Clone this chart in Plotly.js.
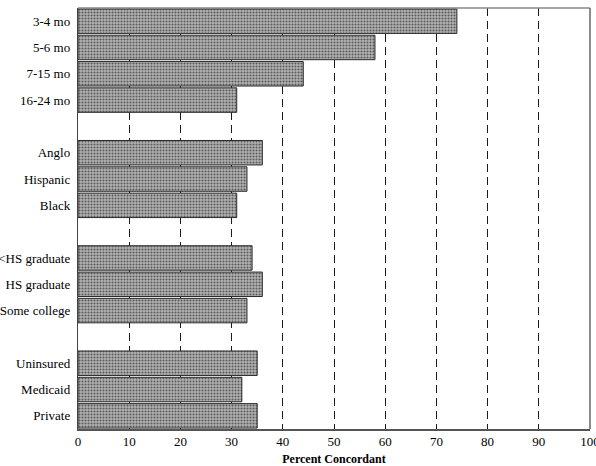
<!DOCTYPE html>
<html>
<head>
<meta charset="utf-8">
<script src="https://cdn.plot.ly/plotly-3.0.1.min.js"></script>
<style>html,body{margin:0;padding:0;background:#fff;}#chart{width:596px;height:466px;}</style>
</head>
<body>
<div id="chart"></div>
<script>
// Data
const ageLabels = ['3-4 mo', '5-6 mo', '7-15 mo', '16-24 mo'];
const ageValues = [74, 58, 44, 31];
const raceLabels = ['Anglo', 'Hispanic', 'Black'];
const raceValues = [36, 33, 31];
const eduLabels = ['<HS graduate', 'HS graduate', 'Some college'];
const eduValues = [34, 36, 33];
const insLabels = ['Uninsured', 'Medicaid', 'Private'];
const insValues = [35, 32, 35];
const xTickValues = [0, 10, 20, 30, 40, 50, 60, 70, 80, 90, 100];
const xTitle = 'Percent Concordant';

// Build category order with blank spacer rows between groups
const groups = [[ageLabels, ageValues], [raceLabels, raceValues], [eduLabels, eduValues], [insLabels, insValues]];
const cats = [], vals = [], allCats = [];
groups.forEach((g, gi) => {
  if (gi > 0) allCats.push('\u200b'.repeat(gi));
  g[0].forEach((lab, i) => { cats.push(lab); vals.push(g[1][i]); allCats.push(lab); });
});

const trace = {
  type: 'bar',
  orientation: 'h',
  x: vals,
  y: cats,
  marker: {
    color: '#a4a4a4',
    line: {color: '#2a2a2a', width: 1},
    pattern: {shape: '.', fgcolor: '#5a5a5a', bgcolor: '#b4b4b4', size: 3, solidity: 0.4, fillmode: 'replace'}
  },
  hoverinfo: 'x+y'
};

const layout = {
  width: 596, height: 466,
  margin: {l: 78, r: 6, t: 8, b: 37},
  paper_bgcolor: '#fff', plot_bgcolor: '#fff',
  bargap: 0.07,
  showlegend: false,
  font: {family: '"Liberation Serif", "Times New Roman", serif', color: '#000', size: 13},
  xaxis: {
    range: [0, 100],
    tickvals: xTickValues,
    ticks: '',
    showgrid: true,
    gridcolor: '#1a1a1a',
    gridwidth: 1,
    griddash: '8px,5px',
    zeroline: false,
    showline: true, linecolor: '#555', linewidth: 1.5,
    ticklabeloverflow: 'allow',
    tickfont: {size: 13, family: '"Liberation Serif", serif', color: '#000'},
    title: {text: '<b>' + xTitle + '</b>', font: {size: 12, family: '"Liberation Serif", serif', color: '#000'}, standoff: 6}
  },
  yaxis: {
    type: 'category',
    categoryorder: 'array',
    categoryarray: allCats,
    range: [allCats.length - 0.5, -0.5],
    ticks: '',
    showgrid: false,
    zeroline: false,
    showline: true, linecolor: '#444', linewidth: 1.2,
    ticklabeloverflow: 'allow',
    tickfont: {size: 13, family: '"Liberation Serif", serif', color: '#000'},
    ticklabelstandoff: 4
  },
  shapes: [
    {type: 'line', xref: 'x domain', yref: 'y domain', x0: 0, x1: 1, y0: 1, y1: 1, line: {color: '#888', width: 1.5}, layer: 'above'},
    {type: 'line', xref: 'x domain', yref: 'y domain', x0: 1, x1: 1, y0: 0, y1: 1, line: {color: '#666', width: 1.5}, layer: 'above'}
  ]
};

Plotly.newPlot('chart', [trace], layout, {displayModeBar: false, staticPlot: true});
</script>
</body>
</html>
